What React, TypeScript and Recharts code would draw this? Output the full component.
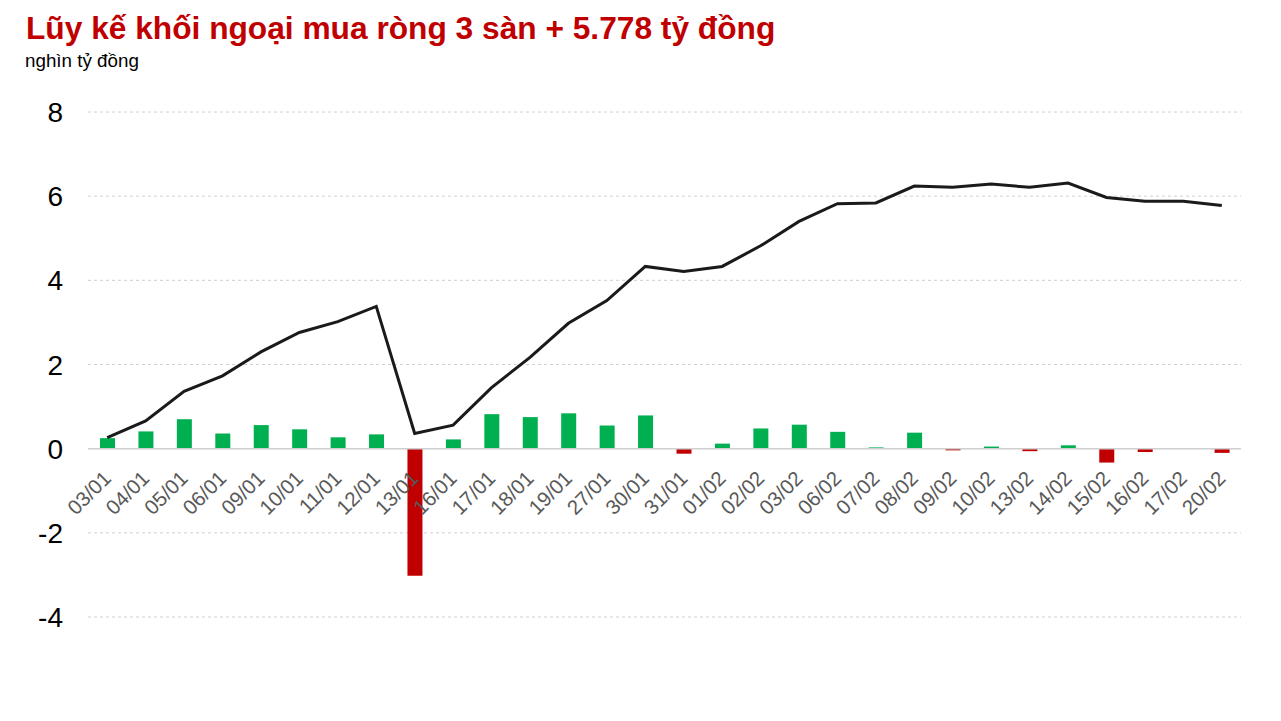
import React from 'react';
import { ComposedChart, Bar, Line, Cell, XAxis, YAxis, CartesianGrid, ReferenceLine } from 'recharts';

const dates = [
  '03/01', '04/01', '05/01', '06/01', '09/01', '10/01', '11/01', '12/01', '13/01', '16/01',
  '17/01', '18/01', '19/01', '27/01', '30/01', '31/01', '01/02', '02/02', '03/02', '06/02',
  '07/02', '08/02', '09/02', '10/02', '13/02', '14/02', '15/02', '16/02', '17/02', '20/02',
];

// giá trị mua/bán ròng từng phiên (nghìn tỷ đồng)
const daily = [
  0.25, 0.41, 0.7, 0.36, 0.56, 0.46, 0.27, 0.34, -3.02, 0.22,
  0.82, 0.75, 0.84, 0.55, 0.79, -0.12, 0.12, 0.48, 0.57, 0.4,
  0.03, 0.38, -0.04, 0.05, -0.06, 0.08, -0.33, -0.08, 0, -0.1,
];

// lũy kế
const cumulative = [
  0.26, 0.66, 1.36, 1.73, 2.3, 2.76, 3.02, 3.38, 0.36, 0.56,
  1.45, 2.17, 2.98, 3.52, 4.33, 4.21, 4.33, 4.82, 5.4, 5.82,
  5.84, 6.24, 6.21, 6.29, 6.21, 6.31, 5.97, 5.88, 5.88, 5.78,
];

const yTicks = [-4, -2, 0, 2, 4, 6, 8];

const data = dates.map((d, i) => ({ date: d, daily: daily[i], cum: cumulative[i] }));

const CHART_W = 1265;
const CHART_H = 700;
const TOP = 104;
const PLOT_H = 505;
const Y_MIN = -4;
const Y_MAX = 8;
const zeroY = TOP + (PLOT_H * Y_MAX) / (Y_MAX - Y_MIN);

const XTick = (props: any) => {
  const { x, payload } = props;
  return (
    <text
      transform={`translate(${x + 5},${zeroY + 31}) rotate(-45)`}
      textAnchor="end"
      fill="#595959"
      fontSize={20.5}
      fontFamily="Liberation Sans, Arial, sans-serif"
    >
      {payload.value}
    </text>
  );
};

const YTick = (props: any) => {
  const { y, payload } = props;
  return (
    <text
      x={55}
      y={y}
      dy={10}
      textAnchor="end"
      fill="#000"
      fontSize={28}
      fontFamily="Liberation Sans, Arial, sans-serif"
    >
      {payload.value}
    </text>
  );
};

const App: React.FC = () => {
  return (
    <div style={{ position: 'relative', width: CHART_W, height: CHART_H, fontFamily: 'Liberation Sans, Arial, sans-serif' }}>
      <div
        style={{
          position: 'absolute', left: 18, top: 5, fontSize: 31.7, lineHeight: 1,
          fontWeight: 'bold', color: '#c00000', whiteSpace: 'nowrap',
        }}
      >
        Lũy kế khối ngoại mua ròng 3 sàn + 5.778 tỷ đồng
      </div>
      <div style={{ position: 'absolute', left: 17, top: 44, fontSize: 18.8, lineHeight: 1, color: '#000', whiteSpace: 'nowrap' }}>
        nghìn tỷ đồng
      </div>
      <ComposedChart
        width={CHART_W}
        height={CHART_H}
        data={data}
        margin={{ top: TOP, right: 32, bottom: CHART_H - TOP - PLOT_H - 30, left: 0 }}
      >
        <CartesianGrid vertical={false} strokeDasharray="3 3" stroke="#d0d0d0" />
        <XAxis dataKey="date" interval={0} axisLine={false} tickLine={false} height={30} tick={<XTick />} />
        <YAxis
          domain={[Y_MIN, Y_MAX]}
          ticks={yTicks}
          width={80}
          axisLine={false}
          tickLine={false}
          tick={<YTick />}
        />
        <ReferenceLine y={0} stroke="#d0d0d0" strokeWidth={1.5} />
        <Bar dataKey="daily" barSize={15} isAnimationActive={false}>
          {data.map((d, i) => (
            <Cell key={i} fill={d.daily < 0 ? '#c00000' : '#00b050'} />
          ))}
        </Bar>
        <Line
          type="linear"
          dataKey="cum"
          stroke="#1a1a1a"
          strokeWidth={3}
          dot={false}
          isAnimationActive={false}
        />
      </ComposedChart>
    </div>
  );
};

export default App;
